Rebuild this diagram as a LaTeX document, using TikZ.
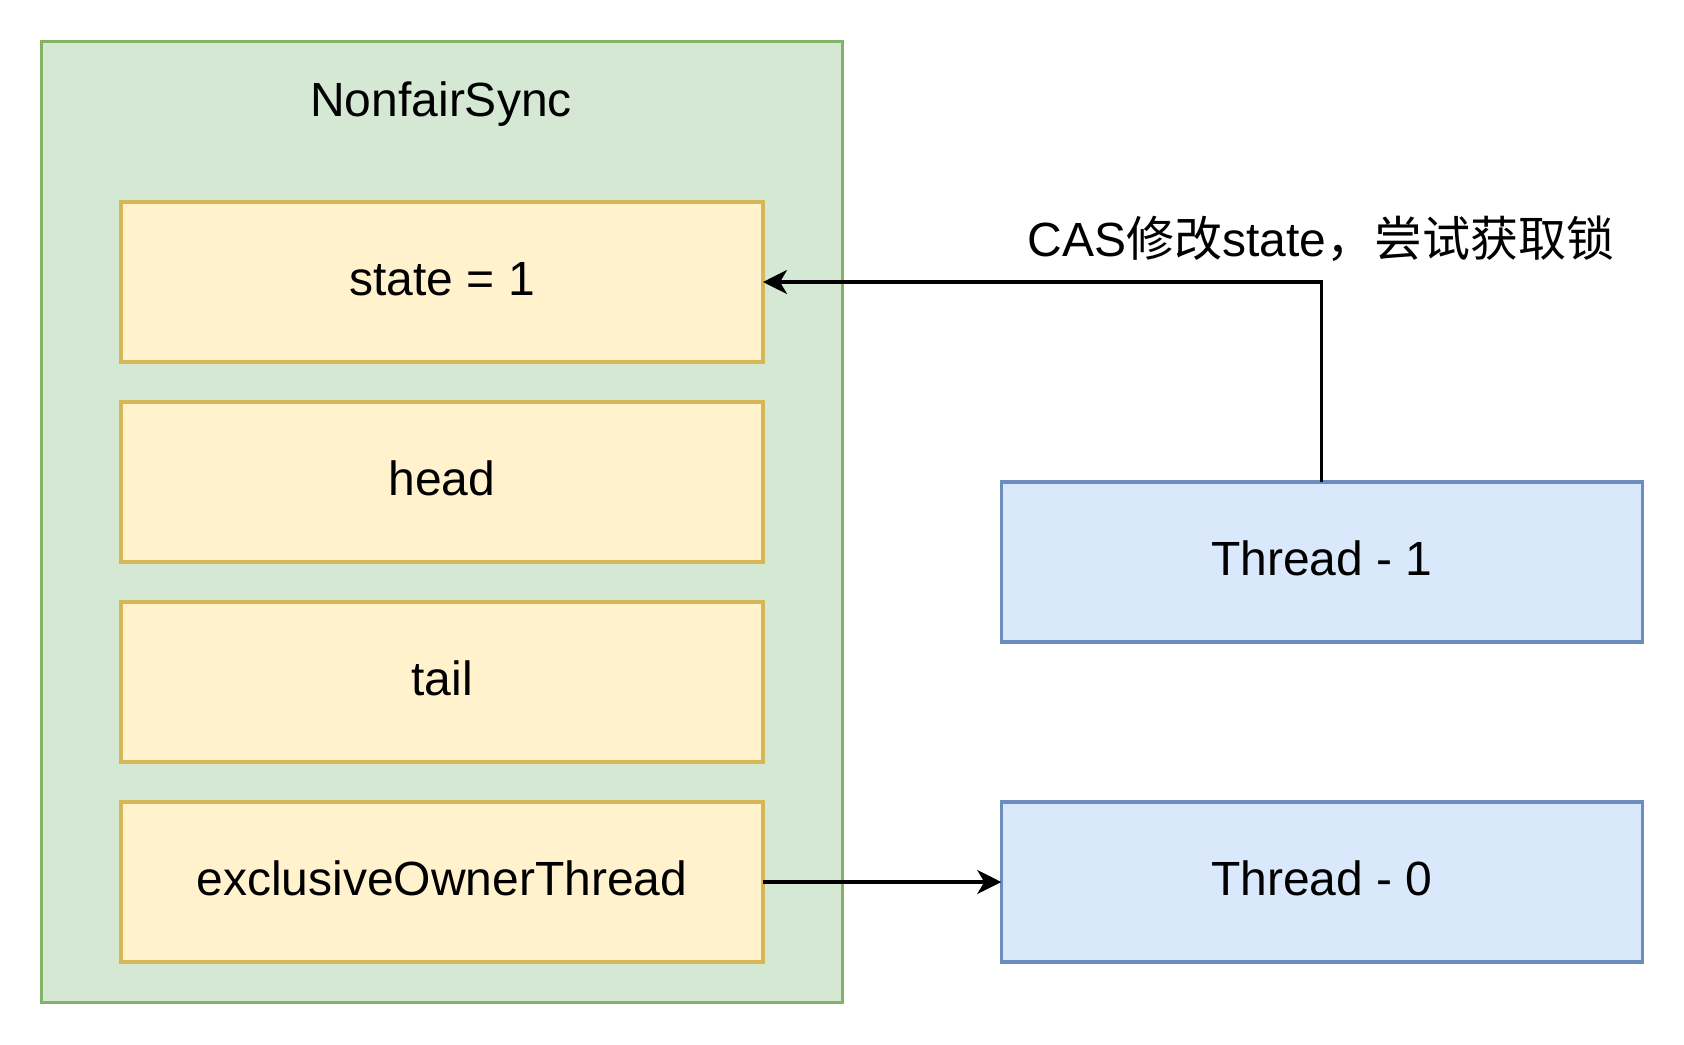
\documentclass[tikz,border=0pt]{standalone}
\usepackage{fontspec}
\setmainfont{Liberation Sans}
\newfontfamily\cjkfont{Noto Sans CJK SC}
\usetikzlibrary{arrows.meta}
\definecolor{grnfill}{HTML}{D5E8D4}
\definecolor{grnline}{HTML}{82B366}
\definecolor{ylwfill}{HTML}{FFF2CC}
\definecolor{ylwline}{HTML}{D6B656}
\definecolor{blufill}{HTML}{DAE8FC}
\definecolor{bluline}{HTML}{6C8EBF}
\tikzset{
  base/.style={draw, line width=1.7pt, inner sep=0pt, outer sep=0pt,
    font=\fontsize{24}{28}\selectfont, text height=17.3pt, text depth=3.8pt},
  field/.style={base, rectangle, fill=ylwfill, draw=ylwline,
    minimum width=321pt, minimum height=80pt},
  thread/.style={base, rectangle, fill=blufill, draw=bluline,
    minimum width=320.5pt, minimum height=80pt},
  conn/.style={line width=1.7pt, -{Stealth[length=12pt,width=12pt,inset=3.5pt]}},
  lbl/.style={font=\fontsize{24}{28}\selectfont, inner sep=0pt}
}
\begin{document}
\begin{tikzpicture}[x=0.5pt, y=-0.5pt]
\useasboundingbox (0,0) rectangle (1684,1044);
% outer container
\node[base, rectangle, fill=grnfill, draw=grnline, minimum width=400.5pt,
  minimum height=480.5pt] (sync) at (442,522.25) {};
\node[lbl, anchor=base] (title) at (441,116) {NonfairSync};
% fields
\node[field] (state) at (442,282) {state = 1};
\node[field] (head) at (442,482) {head};
\node[field] (tail) at (442,682) {tail};
\node[field] (owner) at (442,882) {exclusiveOwnerThread};
% threads
\node[thread] (t1) at (1321.75,562) {Thread - 1};
\node[thread] (t0) at (1321.75,882) {Thread - 0};
% connectors
\coordinate (bend) at (t1.north |- state.east);
\draw[conn] (t1.north) -- (bend) -- (state.east);
\draw[conn] (owner.east) -- (t0.west);
\node[lbl, anchor=base] (cas) at (1321,256.5)
  {CAS{\cjkfont 修改}state{\cjkfont ，尝试获取锁}};
\end{tikzpicture}
\end{document}
